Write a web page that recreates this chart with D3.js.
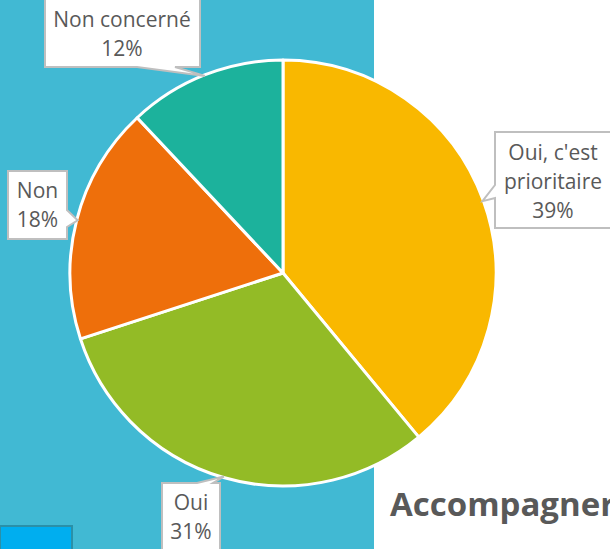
<!DOCTYPE html>
<html>
<head>
<meta charset="utf-8">
<script src="https://cdnjs.cloudflare.com/ajax/libs/d3/7.8.5/d3.min.js"></script>
<style>
  html, body { margin: 0; padding: 0; background: #fff; }
  svg { display: block; }
</style>
</head>
<body>
<svg width="610" height="549"></svg>
<script>
// data
const categories = ["Oui, c'est prioritaire", "Oui", "Non", "Non concerné"]
const values = [39, 31, 18, 12]
const colors = ["#F9B800", "#93BB26", "#EE6F0B", "#1CB29C"]

// label box layout (box rect, which side the wedge sits on, wedge base)
const labelBoxes = [
  { x0: 495, y0: 132, x1: 613, y1: 228, side: "left", a: 185, b: 198, cx: 553, lines: ["Oui, c'est", "prioritaire"], y: 160 },
  { x0: 162, y0: 483, x1: 220, y1: 560, side: "top", a: 197, b: 213, cx: 191, lines: ["Oui"], y: 510 },
  { x0: 8, y0: 171, x1: 67, y1: 239, side: "right", a: 210, b: 227, cx: 37.5, lines: ["Non"], y: 198 },
  { x0: 45, y0: -3, x1: 200, y1: 67, side: "bottom", a: 137, b: 175, cx: 122, lines: ["Non concerné"], y: 27 }
]

const svg = d3.select("svg")
const width = +svg.attr("width"), height = +svg.attr("height")
const cx = 283, cy = 273, r = 213

svg.append("rect").attr("width", width).attr("height", height).attr("fill", "#fff")
svg.append("rect").attr("x", 0).attr("y", 0).attr("width", 374).attr("height", height).attr("fill", "#41B9D3")
svg.append("rect").attr("x", 0).attr("y", 526).attr("width", 72).attr("height", 30)
  .attr("fill", "#00AEEF").attr("stroke", "#2A90A8").attr("stroke-width", 2)

const pie = d3.pie().sort(null).value(d => d)
const arcs = pie(values)
const arc = d3.arc().innerRadius(0).outerRadius(r)

const g = svg.append("g").attr("transform", `translate(${cx},${cy})`)
g.selectAll("path")
  .data(arcs)
  .enter().append("path")
  .attr("d", arc)
  .attr("fill", (d, i) => colors[i])
  .attr("stroke", "#fff")
  .attr("stroke-width", 3)
  .attr("stroke-linejoin", "round")

// callout path: rectangle with a wedge pointing to the slice edge
function callout(b, tip) {
  const p = d3.path()
  p.moveTo(b.x0, b.y0)
  if (b.side === "top") { p.lineTo(b.a, b.y0); p.lineTo(tip[0], tip[1]); p.lineTo(b.b, b.y0) }
  p.lineTo(b.x1, b.y0)
  if (b.side === "right") { p.lineTo(b.x1, b.a); p.lineTo(tip[0], tip[1]); p.lineTo(b.x1, b.b) }
  p.lineTo(b.x1, b.y1)
  if (b.side === "bottom") { p.lineTo(b.b, b.y1); p.lineTo(tip[0], tip[1]); p.lineTo(b.a, b.y1) }
  p.lineTo(b.x0, b.y1)
  if (b.side === "left") { p.lineTo(b.x0, b.b); p.lineTo(tip[0], tip[1]); p.lineTo(b.x0, b.a) }
  p.closePath()
  return p.toString()
}

const tipArc = d3.arc().innerRadius(r - 1).outerRadius(r - 1)

const labels = svg.append("g").attr("class", "labels")
arcs.forEach((d, i) => {
  const b = labelBoxes[i]
  const c = tipArc.centroid(d)
  const tip = [cx + c[0], cy + c[1]]
  labels.append("path")
    .attr("d", callout(b, tip))
    .attr("fill", "#fff")
    .attr("stroke", "#BFBFBF")
    .attr("stroke-width", 2)
    .attr("stroke-linejoin", "miter")
  const lines = b.lines.concat([d3.format(".0f")(d.value) + "%"])
  const t = labels.append("text")
    .attr("text-anchor", "middle")
    .attr("font-family", "'Open Sans', sans-serif")
    .attr("font-size", 21)
    .attr("fill", "#595959")
  lines.forEach((s, k) => {
    t.append("tspan").attr("x", b.cx).attr("y", b.y + k * 29).text(s)
  })
})

svg.append("text")
  .attr("x", 390).attr("y", 516)
  .attr("font-family", "'Open Sans', sans-serif")
  .attr("font-weight", "bold")
  .attr("font-size", 33)
  .attr("fill", "#595959")
  .text("Accompagner")
</script>
</body>
</html>
